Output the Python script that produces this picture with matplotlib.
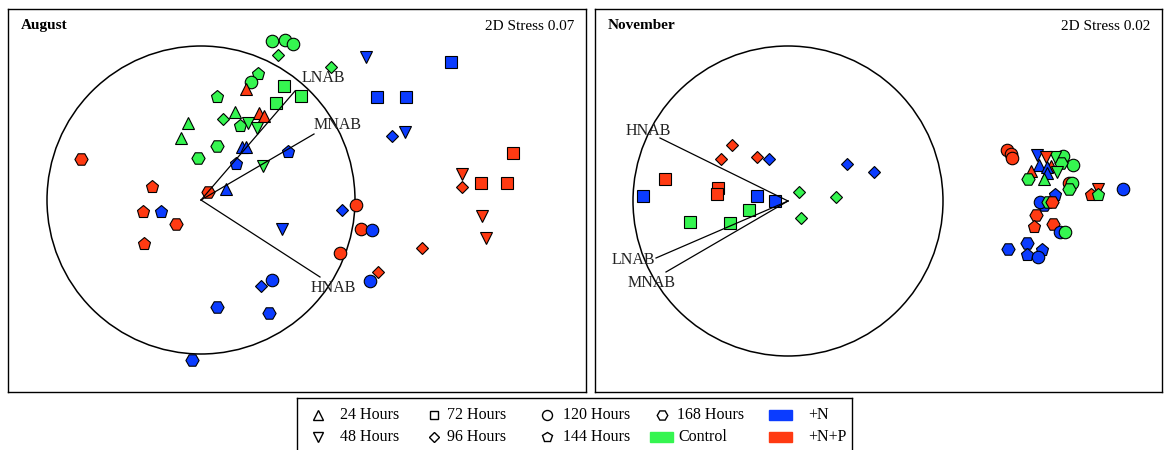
import matplotlib.pyplot as plt
from matplotlib.patches import Circle, Rectangle

plt.rcParams['font.family'] = ['Liberation Serif', 'DejaVu Serif']

W, H = 1166, 450

# August ordination (plot units), sampling time in hours, treatment
aug_x = [272, 285, 293, 278, 331, 258, 251, 246, 284, 301, 276, 217, 235, 259, 264,
         188, 181, 223, 240, 248, 257, 217, 198, 242, 246, 236, 263, 288, 81, 152,
         208, 226, 366, 451, 377, 406, 392, 405, 513, 462, 462, 481, 507, 143, 161,
         176, 144, 282, 272, 261, 217, 269, 192, 342, 356, 361, 372, 340, 422, 482,
         486, 378, 370]
aug_y = [41, 40, 44, 55, 67, 74, 82, 89, 86, 96, 103, 97, 112, 113, 116,
         123, 138, 119, 126, 123, 128, 146, 158, 147, 147, 164, 166, 152, 159, 187,
         192, 189, 57, 62, 97, 97, 136, 132, 153, 174, 187, 183, 183, 212, 212,
         224, 244, 229, 280, 286, 307, 313, 360, 210, 205, 229, 230, 253, 248, 216,
         238, 272, 281]
aug_hours = [120, 120, 120, 96, 96, 144, 120, 24, 72, 72, 72, 144, 24, 24, 24,
             24, 24, 96, 144, 48, 48, 168, 168, 24, 24, 144, 48, 144, 168, 144,
             168, 24, 48, 72, 72, 72, 96, 48, 72, 48, 96, 72, 72, 144, 144,
             168, 144, 48, 120, 96, 168, 168, 168, 96, 120, 120, 120, 120, 96, 48,
             48, 96, 120]
aug_trt = ['C', 'C', 'C', 'C', 'C', 'C', 'C', 'NP', 'C', 'C', 'C', 'C', 'C', 'NP', 'NP',
           'C', 'C', 'C', 'C', 'C', 'C', 'C', 'C', 'N', 'N', 'N', 'C', 'N', 'NP', 'NP',
           'NP', 'N', 'N', 'N', 'N', 'N', 'N', 'N', 'NP', 'NP', 'NP', 'NP', 'NP', 'NP', 'N',
           'NP', 'NP', 'N', 'N', 'N', 'N', 'N', 'N', 'N', 'NP', 'NP', 'N', 'NP', 'NP', 'NP',
           'NP', 'NP', 'N']

# November ordination
nov_x = [732, 721, 757, 769, 847, 874, 665, 718, 717, 643, 757, 775, 799, 836, 801,
         749, 690, 730, 1007, 1011, 1012, 1063, 1073, 1061, 1055, 1037, 1046, 1039, 1051, 1047,
         1057, 1031, 1047, 1028, 1044, 1069, 1072, 1069, 1091, 1098, 1098, 1123, 1055, 1044, 1040,
         1048, 1052, 1036, 1034, 1053, 1060, 1065, 1027, 1008, 1027, 1042, 1038]
nov_y = [145, 159, 157, 159, 164, 172, 179, 188, 194, 196, 196, 201, 192, 197, 218,
         210, 222, 223, 150, 154, 158, 156, 165, 163, 157, 155, 157, 165, 166, 167,
         172, 171, 173, 179, 179, 183, 183, 189, 195, 189, 195, 189, 195, 205, 202,
         202, 202, 215, 227, 224, 232, 232, 243, 249, 255, 250, 257]
nov_hours = [96, 96, 96, 96, 96, 96, 72, 72, 72, 72, 72, 72, 96, 96, 96,
             72, 72, 72, 120, 120, 120, 120, 120, 168, 48, 48, 48, 24, 24, 24,
             48, 24, 24, 168, 24, 120, 120, 168, 144, 48, 144, 120, 144, 168, 120,
             168, 168, 168, 144, 168, 120, 120, 168, 168, 144, 144, 120]
nov_trt = ['NP', 'NP', 'NP', 'N', 'N', 'N', 'NP', 'NP', 'NP', 'N', 'N', 'N', 'C', 'C', 'C',
           'C', 'C', 'C', 'NP', 'NP', 'NP', 'C', 'C', 'C', 'C', 'N', 'NP', 'N', 'NP', 'N',
           'C', 'NP', 'N', 'C', 'C', 'NP', 'C', 'C', 'NP', 'NP', 'C', 'N', 'N', 'N', 'N',
           'C', 'NP', 'NP', 'NP', 'NP', 'N', 'C', 'N', 'N', 'N', 'N', 'N']

# environmental vectors (end points in plot units)
vec_names = ['LNAB', 'MNAB', 'HNAB']
aug_vec_x = [295, 314, 320]
aug_vec_y = [91, 134, 277]
nov_vec_x = [656, 666, 660]
nov_vec_y = [258, 272, 138]

colors = {'N': '#0b3cff', 'C': '#35f550', 'NP': '#ff3a12'}
markers = {24: '^', 48: 'v', 72: 's', 96: 'D', 120: 'o', 144: 'p', 168: 'H'}
sizes = {24: 9, 48: 9, 72: 8, 96: 5.8, 120: 9, 144: 9.5, 168: 9.5}

fig = plt.figure(figsize=(W / 100, H / 100), dpi=100)


def pixel_axes(x0, y0, x1, y1):
    ax = fig.add_axes([x0 / W, 1 - y1 / H, (x1 - x0) / W, (y1 - y0) / H])
    ax.set_xlim(x0, x1)
    ax.set_ylim(y1, y0)
    ax.set_xticks([])
    ax.set_yticks([])
    for s in ax.spines.values():
        s.set_linewidth(1.0)
    return ax


def panel(box, title, stress, xs, ys, hours, trt, centre, radius, vx, vy, label_pos):
    ax = pixel_axes(*box)
    ax.add_patch(Circle(centre, radius, fill=False, ec='black', lw=1.1))
    for x, y, h, t in zip(xs, ys, hours, trt):
        ax.plot(x, y, marker=markers[h], ms=sizes[h], mfc=colors[t],
                mec='black', mew=0.8, ls='none')
    for name, ex, ey, (lx, ly) in zip(vec_names, vx, vy, label_pos):
        ax.plot([centre[0], ex], [centre[1], ey], color='black', lw=0.9, zorder=5)
        ax.text(lx, ly, name, ha='center', va='center', fontsize=11.5, color='#222222', zorder=6)
    ax.text(box[0] + 13, 26, title, fontsize=11, fontweight='bold', va='center')
    ax.text(box[2] - 12, 27, stress, fontsize=11, va='center', ha='right')
    return ax


panel((8, 9, 586, 392), 'August', '2D Stress 0.07', aug_x, aug_y, aug_hours, aug_trt,
      (201, 200), 154, aug_vec_x, aug_vec_y, [(323, 78), (338, 125), (333, 288)])
panel((595, 9, 1162, 392), 'November', '2D Stress 0.02', nov_x, nov_y, nov_hours, nov_trt,
      (788, 201), 155, nov_vec_x, nov_vec_y, [(633, 260), (652, 283), (648, 131)])

# legend box
lg = pixel_axes(297, 398, 852, 458)
rows = [415, 437]
time_cols = [(318, 340), (434, 447), (547, 563), (662, 677)]
time_items = [(24, 0, 0), (48, 1, 0), (72, 0, 1), (96, 1, 1), (120, 0, 2), (144, 1, 2), (168, 0, 3)]
for h, r, c in time_items:
    mx, tx = time_cols[c]
    lg.plot(mx, rows[r], marker=markers[h], ms=sizes[h] * 0.8, mfc='white', mec='black', mew=1.0)
    lg.text(tx, rows[r], f'{h} Hours', fontsize=11.5, va='center')
trt_items = [('N', '+N', 769, 0), ('C', 'Control', 650, 1), ('NP', '+N+P', 769, 1)]
for t, name, px, r in trt_items:
    lg.add_patch(Rectangle((px, rows[r] - 5), 23, 10, color=colors[t]))
    lg.text(px + (39 if t != 'C' else 28), rows[r], name, fontsize=11.5, va='center')

fig.savefig('out.png', dpi=100)
